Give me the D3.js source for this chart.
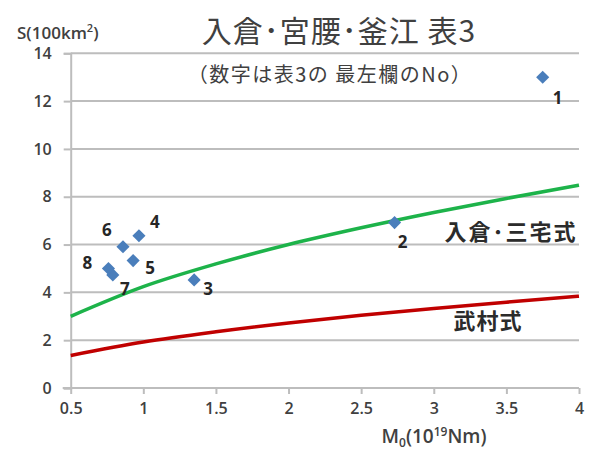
<!DOCTYPE html>
<html>
<head>
<meta charset="utf-8">
<script src="https://cdn.jsdelivr.net/npm/d3@7"></script>
<style>
  body { margin: 0; background: #fff; }
  svg { display: block; }
  text { font-family: "Open Sans", "Liberation Sans", sans-serif; }
  .jp { font-family: "Noto Sans CJK JP", sans-serif; }
</style>
</head>
<body>
<svg id="chart" width="595" height="457"></svg>
<script>
// Event data (No. from the leftmost column of Table 3)
const eventNo = ["1", "2", "3", "4", "5", "6", "7", "8"];
const moment = [3.75, 2.73, 1.35, 0.97, 0.93, 0.86, 0.79, 0.76]; // M0 (10^19 Nm)
const area = [13.0, 6.92, 4.52, 6.37, 5.33, 5.91, 4.73, 5.0];     // S (100 km^2)

// Scaling relations, sampled along M0
const curveM0 = [0.5, 1, 1.5, 2, 2.5, 3, 3.5, 4];
const irikuraMiyake = [3.0, 4.24, 5.19, 6.0, 6.7, 7.34, 7.93, 8.48];
const takemura = [1.36, 1.92, 2.35, 2.72, 3.04, 3.33, 3.59, 3.84];

const xTicks = [0.5, 1, 1.5, 2, 2.5, 3, 3.5, 4];
const yTicks = [0, 2, 4, 6, 8, 10, 12, 14];

const svg = d3.select("#chart");
const plotLeft = 70.7, plotRight = 579, plotTop = 53.3, plotBottom = 388;

const x = d3.scaleLinear().domain([0.5, 4]).range([plotLeft, plotRight]);
const y = d3.scaleLinear().domain([0, 14]).range([plotBottom, plotTop]);

const gridColor = "#bdbdbd";
const tickColor = "#404040";

// horizontal gridlines
svg.append("g").selectAll("line").data(yTicks.filter(d => d > 0)).join("line")
  .attr("x1", plotLeft).attr("x2", plotRight)
  .attr("y1", d => y(d)).attr("y2", d => y(d))
  .attr("stroke", gridColor).attr("stroke-width", 2);

// y axis
const yAxis = svg.append("g").attr("transform", `translate(${plotLeft},0)`)
  .call(d3.axisLeft(y).tickValues(yTicks).tickSize(7).tickPadding(12).tickFormat(d3.format("d")));
yAxis.select(".domain").attr("stroke", gridColor).attr("stroke-width", 2);
yAxis.selectAll(".tick line").attr("stroke", gridColor).attr("stroke-width", 2);
yAxis.selectAll(".tick text").attr("fill", tickColor).attr("font-size", 16).attr("font-weight", 600);

// x axis
const xAxis = svg.append("g").attr("transform", `translate(0,${plotBottom})`)
  .call(d3.axisBottom(x).tickValues(xTicks).tickSize(6).tickPadding(9).tickFormat(d => String(d)));
xAxis.select(".domain").attr("stroke", gridColor).attr("stroke-width", 2)
  .attr("d", `M${plotLeft - 8},0H${plotRight}`);
xAxis.selectAll(".tick line").attr("stroke", gridColor).attr("stroke-width", 2);
xAxis.selectAll(".tick text").attr("fill", tickColor).attr("font-size", 16).attr("font-weight", 600);

// scaling-relation curves
const line = d3.line().x(d => x(d[0])).y(d => y(d[1])).curve(d3.curveMonotoneX);
svg.append("path").datum(curveM0.map((m, i) => [m, takemura[i]]))
  .attr("d", line).attr("fill", "none").attr("stroke", "#c00000").attr("stroke-width", 3.5);
svg.append("path").datum(curveM0.map((m, i) => [m, irikuraMiyake[i]]))
  .attr("d", line).attr("fill", "none").attr("stroke", "#1db34a").attr("stroke-width", 3.5);

// event markers
const diamond = d3.symbol().type(d3.symbolDiamond2).size(110);
svg.append("g").selectAll("path").data(eventNo).join("path")
  .attr("d", diamond)
  .attr("transform", (d, i) => `translate(${x(moment[i])},${y(area[i])})`)
  .attr("fill", "#4a7ebb");

// event number labels (offsets from each marker)
const labelOffset = {
  "1": [15, 20], "2": [8, 19], "3": [14, 9], "4": [16, -14], "5": [17, 7],
  "6": [-16, -17], "7": [12, 14], "8": [-21, -6]
};
svg.append("g").selectAll("text").data(eventNo).join("text")
  .attr("x", (d, i) => x(moment[i]) + labelOffset[d][0])
  .attr("y", (d, i) => y(area[i]) + labelOffset[d][1])
  .attr("text-anchor", "middle").attr("dominant-baseline", "central")
  .attr("font-size", 17).attr("font-weight", 700).attr("fill", "#262626")
  .text(d => d);

// curve names
svg.append("text").attr("class", "jp").attr("x", 511).attr("y", 240)
  .attr("text-anchor", "middle").attr("font-size", 22).attr("font-weight", 700)
  .attr("letter-spacing", 2).attr("fill", "#2b2b2b")
  .text("入倉･三宅式");
svg.append("text").attr("class", "jp").attr("x", 488).attr("y", 329)
  .attr("text-anchor", "middle").attr("font-size", 22).attr("font-weight", 700)
  .attr("letter-spacing", 1).attr("fill", "#2b2b2b")
  .text("武村式");

// titles
svg.append("text").attr("class", "jp").attr("x", 339).attr("y", 42)
  .attr("text-anchor", "middle").attr("font-size", 30).attr("letter-spacing", 1).attr("fill", "#404040")
  .text("入倉･宮腰･釜江 表3");
svg.append("text").attr("class", "jp").attr("x", 330).attr("y", 82)
  .attr("text-anchor", "middle").attr("font-size", 20).attr("letter-spacing", 1.5).attr("fill", "#404040")
  .text("（数字は表3の 最左欄のNo）");

// axis titles
const yTitle = svg.append("text").attr("x", 17).attr("y", 39)
  .attr("font-size", 17).attr("font-weight", 600).attr("fill", "#404040");
yTitle.append("tspan").text("S(100km");
yTitle.append("tspan").attr("font-size", 11).attr("dy", -7).text("2");
yTitle.append("tspan").attr("dy", 7).text(")");

const xTitle = svg.append("text").attr("x", 434).attr("y", 443).attr("text-anchor", "middle")
  .attr("font-size", 19).attr("font-weight", 600).attr("fill", "#404040");
xTitle.append("tspan").text("M");
xTitle.append("tspan").attr("font-size", 12).attr("dy", 4).text("0");
xTitle.append("tspan").attr("dy", -4).text("(10");
xTitle.append("tspan").attr("font-size", 12).attr("dy", -7).text("19");
xTitle.append("tspan").attr("dy", 7).text("Nm)");
</script>
</body>
</html>
